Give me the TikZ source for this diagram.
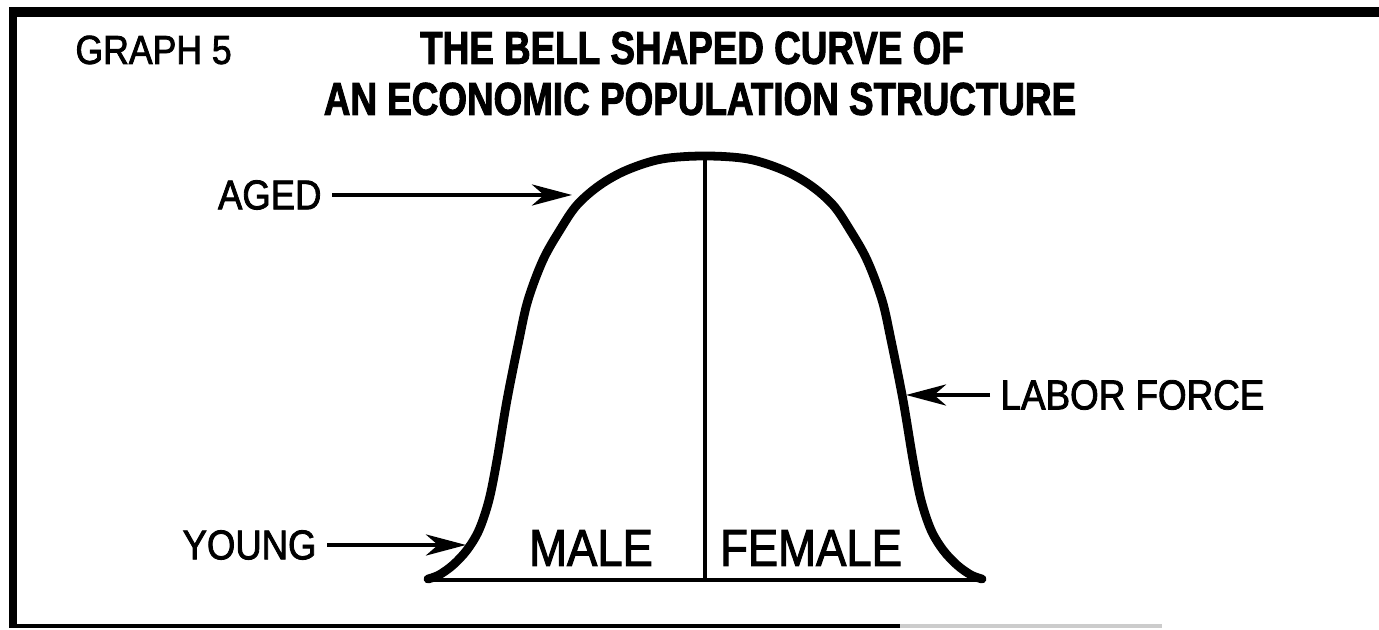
\documentclass[tikz,border=0pt]{standalone}
\usepackage{fontspec}
\setmainfont{Liberation Sans}[FakeStretch=0.88, FakeBold=2]
\newfontfamily\titlefont{Liberation Sans}[FakeStretch=0.8, FakeBold=2]
\usetikzlibrary{arrows.meta}
\begin{document}
\begin{tikzpicture}[x=0.1mm, y=-0.1mm,
  lbl/.style={inner sep=0pt, outer sep=3pt},
  ttl/.style={inner sep=0pt, font=\titlefont\bfseries\fontsize{13.1}{15}\selectfont},
  pointer/.style={-{Stealth[length=4mm, width=2.1mm, inset=1.2mm]}, line width=1.4pt},
  bell/.style={line width=2.5pt, line cap=round, line join=round}]
\useasboundingbox (0,0) rectangle (1379,630);
% frame
\draw[line width=2.4pt] (13,8) -- (13,628);
\draw[line width=2.6pt] (9,12) -- (1379,12);
\draw[line width=0.9pt] (9,626) -- (900,626);
\draw[line width=0.9pt, gray!40] (900,626) -- (1162,626);
% headings
\node[lbl, anchor=west, font=\fontsize{11.5}{13}\selectfont] (graph) at (65,50) {GRAPH 5};
\node[ttl] (title1) at (692,48) {THE BELL SHAPED CURVE OF};
\node[ttl] (title2) at (700,99) {AN ECONOMIC POPULATION STRUCTURE};
% the bell
\coordinate (top) at (705,156);
\coordinate (bottom) at (705,580);
\draw[bell] plot[smooth, tension=0.55] coordinates {(428,579) (439,575) (453,565) (467,550) (479,530) (489,500) (497,460) (507,400) (519,340) (528,300) (543,260) (560,230) (577,205) (600,185) (627,170) (662,159) (705,156)
  (748,159) (783,170) (810,185) (833,205) (850,230) (867,260) (882,300) (891,340) (903,400) (913,460) (921,500) (931,530) (943,550) (957,565) (971,575) (982,579)};
\draw[line width=1.4pt] (428,580) -- (982,580);
\draw[line width=1pt] (top) -- (bottom);
% labels
\node[lbl, font=\fontsize{14.7}{16}\selectfont] (male) at (591,548) {MALE};
\node[lbl, font=\fontsize{14.7}{16}\selectfont] (female) at (811,548) {FEMALE};
\node[lbl, anchor=east, font=\fontsize{11.8}{13}\selectfont] (aged) at (332,195) {AGED};
\node[lbl, anchor=east, font=\fontsize{11.8}{13}\selectfont] (young) at (327,545) {YOUNG};
\node[lbl, anchor=west, font=\fontsize{11.9}{14}\selectfont] (labor) at (990,395) {LABOR FORCE};
% pointers
\coordinate (agedtip) at (572,195);
\coordinate (youngtip) at (466,545);
\coordinate (labortip) at (906,395);
\draw[pointer] (aged) -- (agedtip);
\draw[pointer] (young) -- (youngtip);
\draw[pointer] (labor) -- (labortip);
\end{tikzpicture}
\end{document}
